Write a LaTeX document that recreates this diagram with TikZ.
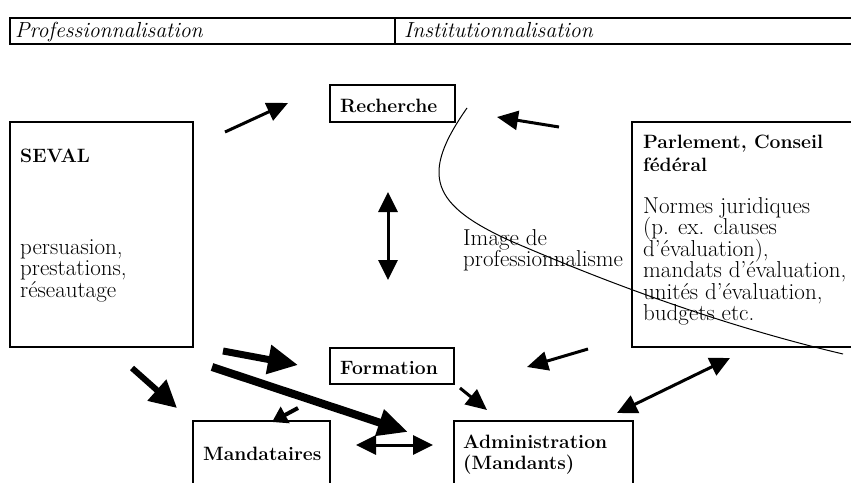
\documentclass[tikz,border=0pt]{standalone}
\usetikzlibrary{arrows.meta}
\begin{document}
\begin{tikzpicture}[x=1pt,y=-1pt,
  frame/.style={line width=1.1pt,line cap=rect},
  txt/.style={anchor=base west,inner sep=0pt,font=\fontsize{23}{26}\selectfont},
  btxt/.style={anchor=base west,inner sep=0pt,font=\fontsize{19.3}{24}\selectfont\bfseries},
  itxt/.style={anchor=base west,inner sep=0pt,font=\fontsize{21.8}{24}\selectfont\itshape},
  arr/.style={line width=3pt,-{Triangle[length=21pt,width=19pt]}},
  darr/.style={line width=3pt,{Triangle[length=20pt,width=19pt]}-{Triangle[length=20pt,width=19pt]}},
  fat/.style={line width=7pt,-{Triangle[length=30pt,width=28pt]}},
  fatter/.style={line width=8pt,-{Triangle[length=30pt,width=26pt]}},
  mid/.style={line width=6pt,-{Triangle[length=27pt,width=27pt]}},
  small/.style={line width=4pt,-{Triangle[length=15pt,width=18pt]}}]
\useasboundingbox (0,0) rectangle (851,482);

% header table
\draw[frame] (851,18) -- (10,18) -- (10,44) -- (851,44);
\draw[frame] (395,18) -- (395,44);
\node[itxt] (prof) at (15,37) {Professionnalisation};
\node[itxt] (inst) at (404,37) {Institutionnalisation};

% boxes
\draw[frame] (330,85) rectangle (455,122);
\node[btxt] (rech) at (340,112) {Recherche};

\draw[frame] (10,122) rectangle (193,347);
\node[btxt] (seval) at (20,162) {SEVAL};
\node[txt] (sev1) at (20,254) {persuasion,};
\node[txt] (sev2) at (20,275.5) {prestations,};
\node[txt] (sev3) at (20,297) {réseautage};

\draw[frame] (851,122) -- (632,122) -- (632,347) -- (851,347);
\node[btxt] (parl1) at (643,148) {Parlement, Conseil};
\node[btxt] (parl2) at (643,171) {fédéral};
\node[txt] (n1) at (643,213) {Normes juridiques};
\node[txt] (n2) at (643,234.5) {(p. ex. clauses};
\node[txt] (n3) at (643,256) {d’évaluation),};
\node[txt] (n4) at (643,277.5) {mandats d’évaluation,};
\node[txt] (n5) at (643,299) {unités d’évaluation,};
\node[txt] (n6) at (643,320.5) {budgets etc.};

\draw[frame] (330,348) rectangle (454,384);
\node[btxt] (form) at (340,374) {Formation};

\draw[frame] (193,482) -- (193,421) -- (330,421) -- (330,482);
\node[btxt] (mand) at (203,460) {Mandataires};

\draw[frame] (454,482) -- (454,421) -- (633,421) -- (633,482);
\node[btxt] (adm1) at (463,448) {Administration};
\node[btxt] (adm2) at (463,469) {(Mandants)};

\node[txt] (img1) at (463,245) {Image de};
\node[txt] (img2) at (463,266.5) {professionnalisme};

% curve
\draw[line width=1pt] (467,108) .. controls (420,175) and (430,205) .. (513,242)
   .. controls (560,262) and (690,318) .. (843,354);

% arrow coordinates
\coordinate (a1s) at (225,132); \coordinate (a1e) at (288,103);
\coordinate (a2s) at (559,127); \coordinate (a2e) at (497,117);
\coordinate (a3s) at (388,192); \coordinate (a3e) at (388,280);
\coordinate (a5s) at (223,351); \coordinate (a5e) at (298,365);
\coordinate (a6s) at (212,367); \coordinate (a6e) at (408,432);
\coordinate (a7s) at (132,368); \coordinate (a7e) at (177,408);
\coordinate (a8s) at (298,408); \coordinate (a8e) at (272,422);
\coordinate (a9s) at (356,445); \coordinate (a9e) at (433,445);
\coordinate (a10s) at (460,388); \coordinate (a10e) at (487,410);
\coordinate (a11s) at (588,349); \coordinate (a11e) at (527,367);
\coordinate (a12s) at (617,413); \coordinate (a12e) at (730,358);

\draw[arr] (a1s) -- (a1e);
\draw[arr] (a2s) -- (a2e);
\draw[darr] (a3s) -- (a3e);
\draw[fat] (a5s) -- (a5e);
\draw[fatter] (a6s) -- (a6e);
\draw[mid] (a7s) -- (a7e);
\draw[small] (a8s) -- (a8e);
\draw[darr] (a9s) -- (a9e);
\draw[arr] (a10s) -- (a10e);
\draw[arr] (a11s) -- (a11e);
\draw[darr] (a12s) -- (a12e);
\end{tikzpicture}
\end{document}
